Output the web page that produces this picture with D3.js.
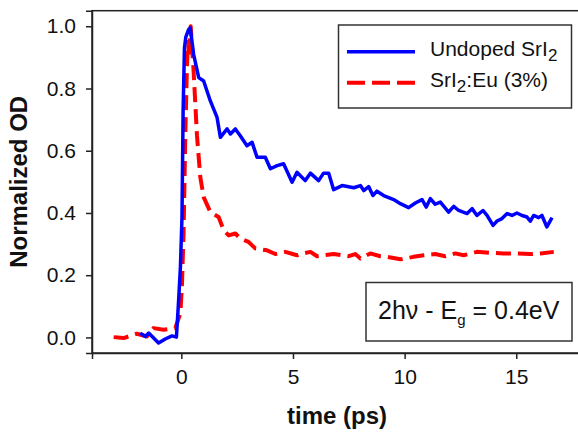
<!DOCTYPE html>
<html>
<head>
<meta charset="utf-8">
<script src="https://cdn.jsdelivr.net/npm/d3@7"></script>
<style>
  body { margin: 0; background: #fff; }
  text { font-family: Arial, "Liberation Sans", sans-serif; fill: #111; }
</style>
</head>
<body>
<svg id="chart" width="578" height="433"></svg>
<script>
// undoped SrI2 (blue, solid)
const undopedTime = [-1.84, -1.61, -1.46, -1.02, -0.72, -0.42, -0.22, -0.12, -0.04, 0.03, 0.08, 0.14, 0.2, 0.33, 0.4,
  0.55, 0.78, 1.0, 1.3, 1.6, 1.75, 2.05, 2.2, 2.42, 2.64, 2.94, 3.17, 3.39, 3.76, 3.99, 4.29, 4.58, 4.96, 5.18,
  5.55, 5.78, 6.15, 6.37, 6.6, 6.82, 7.2, 7.72, 8.02, 8.17, 8.39, 8.58, 8.76, 9.06, 9.51, 9.81, 10.18, 10.48,
  10.78, 10.97, 11.15, 11.37, 11.6, 11.97, 12.2, 12.42, 12.8, 13.02, 13.24, 13.51, 13.69, 13.96, 14.14, 14.36,
  14.59, 14.81, 15.03, 15.26, 15.48, 15.63, 15.78, 16.0, 16.15, 16.37, 16.6];
const undopedOD = [0.014, 0.003, 0.014, -0.018, -0.005, 0.005, 0.001, 0.12, 0.227, 0.387, 0.728, 0.93, 0.965, 0.99, 0.995,
  0.91, 0.835, 0.824, 0.76, 0.707, 0.643, 0.67, 0.654, 0.67, 0.648, 0.616, 0.627, 0.579, 0.579, 0.542, 0.552, 0.558, 0.499, 0.531,
  0.504, 0.528, 0.504, 0.528, 0.528, 0.475, 0.488, 0.481, 0.488, 0.472, 0.485, 0.456, 0.47, 0.456, 0.443, 0.43, 0.417, 0.432,
  0.443, 0.419, 0.446, 0.428, 0.435, 0.403, 0.421, 0.408, 0.398, 0.414, 0.392, 0.408, 0.392, 0.36, 0.374, 0.382,
  0.398, 0.392, 0.4, 0.392, 0.387, 0.374, 0.392, 0.385, 0.392, 0.355, 0.385];

// SrI2:Eu 3% (red, dashed)
const euTime = [-3.03, -2.58, -1.99, -1.54, -1.24, -0.8, -0.27, -0.04, 0.03, 0.1, 0.18, 0.25, 0.3, 0.35, 0.42,
  0.55, 0.7, 0.85, 1.0, 1.3, 1.67, 1.9, 2.12, 2.42, 2.64, 3.01, 3.31, 3.84, 4.21, 4.66, 5.18, 5.33, 5.78, 6.08,
  6.82, 7.49, 7.79, 8.02, 8.46, 8.91, 9.21, 9.81, 10.4, 10.85, 11.37, 11.82, 12.27, 12.64, 13.24, 13.84,
  14.43, 15.03, 15.63, 16.08, 16.68];
const euOD = [0.001, -0.002, 0.012, 0.003, 0.03, 0.025, 0.03, 0.078, 0.174, 0.334, 0.654, 0.867, 0.95, 0.9, 1.0,
  0.856, 0.65, 0.515, 0.451, 0.403, 0.387, 0.344, 0.328, 0.334, 0.318, 0.307, 0.286, 0.28, 0.268, 0.275, 0.264, 0.268, 0.275, 0.261,
  0.268, 0.261, 0.268, 0.254, 0.27, 0.261, 0.259, 0.251, 0.259, 0.264, 0.268, 0.261, 0.27, 0.264, 0.275, 0.272,
  0.27, 0.27, 0.268, 0.27, 0.275];

const xTicks = [0, 5, 10, 15];
const yTicks = [0, 0.2, 0.4, 0.6, 0.8, 1.0];

const svg = d3.select("#chart");
const margins = { top: 10.7, left: 92, bottom: 80 };
const plotBottom = 433 - margins.bottom;

const xScale = d3.scaleLinear().domain([-4, 18]).range([margins.left, margins.left + 22 * 22.33]);
const yScale = d3.scaleLinear().domain([-0.05, 1.05]).range([plotBottom, margins.top]);

// frame (right edge falls outside the picture)
svg.append("rect")
  .attr("x", xScale(-4))
  .attr("y", yScale(1.05))
  .attr("width", xScale(18) - xScale(-4))
  .attr("height", yScale(-0.05) - yScale(1.05))
  .attr("fill", "none")
  .attr("stroke", "#222")
  .attr("stroke-width", 1.5);

let bottomAxis = d3.axisBottom(xScale).tickValues(xTicks).tickSize(6).tickPadding(10).tickFormat(d3.format("d"));
let xg = svg.append("g").attr("transform", `translate(0, ${plotBottom})`).call(bottomAxis);

let leftAxis = d3.axisLeft(yScale).tickValues(yTicks).tickSize(6).tickPadding(10).tickFormat(d3.format(".1f"));
let yg = svg.append("g").attr("transform", `translate(${margins.left}, 0)`).call(leftAxis);

[xg, yg].forEach((g) => {
  g.select(".domain").attr("stroke", "#222").attr("stroke-width", 1.5);
  g.selectAll(".tick line").attr("stroke", "#222").attr("stroke-width", 1.5);
  g.selectAll(".tick text").attr("font-size", 21).attr("fill", "#111")
    .style("font-family", "Arial, 'Liberation Sans', sans-serif");
});

// axis titles
svg.append("text")
  .text("time (ps)")
  .attr("x", 337)
  .attr("y", 424)
  .attr("text-anchor", "middle")
  .attr("font-size", 24)
  .attr("font-weight", "bold");

svg.append("text")
  .text("Normalized OD")
  .attr("transform", `translate(27, ${yScale(0.5)}) rotate(-90)`)
  .attr("text-anchor", "middle")
  .attr("font-size", 24)
  .attr("font-weight", "bold");

// curves
const line = d3.line().x((d) => xScale(d[0])).y((d) => yScale(d[1]));

svg.append("path")
  .datum(euTime.map((t, i) => [t, euOD[i]]))
  .attr("d", line)
  .attr("fill", "none")
  .attr("stroke", "#ff0000")
  .attr("stroke-width", 4)
  .attr("stroke-dasharray", "15,7")
  .attr("stroke-linejoin", "round");

svg.append("path")
  .datum(undopedTime.map((t, i) => [t, undopedOD[i]]))
  .attr("d", line)
  .attr("fill", "none")
  .attr("stroke", "#0000ff")
  .attr("stroke-width", 3.5)
  .attr("stroke-linejoin", "round");

// legend
let legend = svg.append("g");
legend.append("rect")
  .attr("x", 338.5).attr("y", 25).attr("width", 233).attr("height", 83)
  .attr("fill", "#fff").attr("stroke", "#333").attr("stroke-width", 1.5);
legend.append("line")
  .attr("x1", 347).attr("x2", 415).attr("y1", 51.7).attr("y2", 51.7)
  .attr("stroke", "#0000ff").attr("stroke-width", 3.5);
legend.append("line")
  .attr("x1", 347).attr("x2", 415).attr("y1", 82.7).attr("y2", 82.7)
  .attr("stroke", "#ff0000").attr("stroke-width", 4).attr("stroke-dasharray", "18,7");

let t1 = legend.append("text").attr("x", 430).attr("y", 56).attr("font-size", 21);
t1.append("tspan").text("Undoped SrI");
t1.append("tspan").text("2").attr("font-size", 17).attr("dy", 5);

let t2 = legend.append("text").attr("x", 430).attr("y", 87).attr("font-size", 21);
t2.append("tspan").text("SrI");
t2.append("tspan").text("2").attr("font-size", 17).attr("dy", 5);
t2.append("tspan").text(":Eu (3%)").attr("dy", -5);

// annotation
let note = svg.append("g");
note.append("rect")
  .attr("x", 366).attr("y", 282.5).attr("width", 206).attr("height", 58.5)
  .attr("fill", "#fff").attr("stroke", "#333").attr("stroke-width", 1.5);
let t3 = note.append("text").attr("x", 378).attr("y", 319).attr("font-size", 25);
t3.append("tspan").text("2h\u03bd - E");
t3.append("tspan").text("g").attr("font-size", 15).attr("dy", 6);
t3.append("tspan").text(" = 0.4eV").attr("dy", -6);
</script>
</body>
</html>
